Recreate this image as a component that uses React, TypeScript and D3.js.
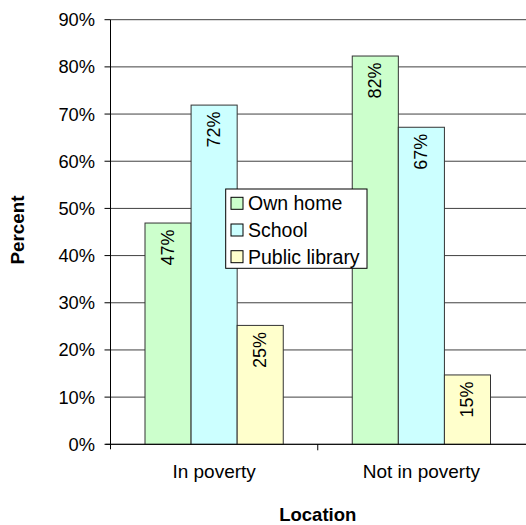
import React from "react";
import * as d3 from "d3";

const categories = ["In poverty", "Not in poverty"];
const seriesNames = ["Own home", "School", "Public library"];
const seriesColors = ["#CCFFCC", "#CCFFFF", "#FFFFCC"];
const ownHome = [46.9, 82.3];
const school = [71.9, 67.2];
const publicLibrary = [25.2, 14.7];
const yTicks = [0, 10, 20, 30, 40, 50, 60, 70, 80, 90];

const W = 526;
const H = 525;
const FONT = "'Liberation Sans', Arial, sans-serif";

export default function App() {
  const left = 110.5;
  const right = 525;
  const top = 19.7;
  const bottom = 444.3;
  const values = [ownHome, school, publicLibrary];

  const x0 = d3.scaleBand<string>().domain(categories).range([left, right]).paddingInner(0).paddingOuter(0);
  const groupPad = 34.5;
  const x1 = d3
    .scaleBand<string>()
    .domain(seriesNames)
    .range([groupPad, x0.bandwidth() - groupPad])
    .padding(0);
  const y = d3.scaleLinear().domain([0, 90]).range([bottom, top]);

  return (
    <svg width={W} height={H} style={{ position: "absolute", left: 0, top: 0, background: "#fff" }} fontFamily={FONT}>
      <rect x={0} y={0} width={W} height={H} fill="#fff" />
      {/* gridlines */}
      {yTicks.map((t) => (
        <line key={"g" + t} x1={left} x2={right + 1} y1={y(t)} y2={y(t)} stroke="#404040" strokeWidth={1} />
      ))}
      {/* bars */}
      {categories.map((c, ci) =>
        seriesNames.map((s, si) => {
          const bx = (x0(c) as number) + (x1(s) as number);
          const bw = x1.bandwidth();
          const v = values[si][ci];
          return (
            <g key={c + s}>
              <rect x={bx} y={y(v)} width={bw} height={bottom - y(v)} fill={seriesColors[si]} stroke="#333" strokeWidth={1} />
              <text
                transform={`translate(${bx + bw / 2},${y(v) + 6.5}) rotate(-90)`}
                textAnchor="end"
                dominantBaseline="central"
                fontSize={18}
                fill="#000"
              >
                {Math.round(v) + "%"}
              </text>
            </g>
          );
        })
      )}
      {/* axes */}
      <line x1={left} x2={left} y1={top} y2={bottom + 5} stroke="#000" strokeWidth={1} />
      <line x1={left - 5} x2={right + 1} y1={bottom} y2={bottom} stroke="#000" strokeWidth={1} />
      {yTicks.map((t) => (
        <g key={"t" + t}>
          <line x1={left - 6} x2={left} y1={y(t)} y2={y(t)} stroke="#000" />
          <text x={95} y={y(t)} textAnchor="end" dominantBaseline="central" fontSize={18.3} fill="#000">
            {t + "%"}
          </text>
        </g>
      ))}
      {categories.map((c, ci) => (
        <g key={"x" + c}>
          {ci > 0 && <line x1={x0(c)} x2={x0(c)} y1={bottom} y2={bottom + 6} stroke="#000" />}
          <text x={(x0(c) as number) + x0.bandwidth() / 2} y={478.3} textAnchor="middle" fontSize={19} fill="#000">
            {c}
          </text>
        </g>
      ))}
      {/* axis titles */}
      <text x={(left + right) / 2} y={521} textAnchor="middle" fontSize={18.5} fontWeight="bold" fill="#000">
        Location
      </text>
      <text
        transform={`translate(${24},${230}) rotate(-90)`}
        textAnchor="middle"
        fontSize={18.8}
        fontWeight="bold"
        fill="#000"
      >
        Percent
      </text>
      {/* legend */}
      <g>
        <rect x={225.7} y={189} width={141.3} height={79.3} fill="#fff" stroke="#000" strokeWidth={1} />
        {seriesNames.map((s, i) => {
          const cy = 203.3 + i * 26.7;
          return (
            <g key={"l" + s}>
              <rect x={231} y={cy - 6} width={12} height={12} fill={seriesColors[i]} stroke="#000" strokeWidth={1} />
              <text x={248} y={cy} dominantBaseline="central" fontSize={19.5} fill="#000">
                {s}
              </text>
            </g>
          );
        })}
      </g>
    </svg>
  );
}
